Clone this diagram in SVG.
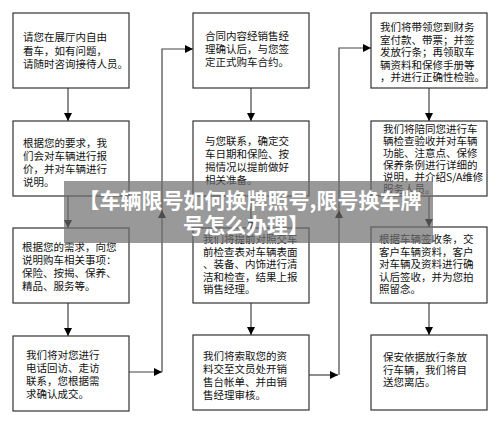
<svg xmlns="http://www.w3.org/2000/svg" width="500" height="425" viewBox="0 0 500 425">
<style>
.box{fill:#fff;stroke:#333;stroke-width:1.2}
.t{font-family:"Noto Sans CJK SC","Noto Sans CJK JP",sans-serif;font-size:10.5px;fill:#111}
.c{fill:none;stroke:#444;stroke-width:1.2}
.ban{font-family:"Noto Sans CJK SC","Noto Sans CJK JP",sans-serif;font-size:21px;font-weight:bold;fill:#fff;text-anchor:middle}
</style>
<defs>
<marker id="ah" viewBox="0 0 10 10" refX="10" refY="5" markerWidth="8" markerHeight="8" markerUnits="userSpaceOnUse" orient="auto">
<path d="M0,0 L10,5 L0,10 z" fill="#000"/>
</marker>
</defs>
<rect width="500" height="425" fill="#fff"/>
<g id="connectors">
<path class="c" d="M68,88 V121" marker-end="url(#ah)"/>
<path class="c" d="M68,196 V228" marker-end="url(#ah)"/>
<path class="c" d="M68,303 V336" marker-end="url(#ah)"/>
<path class="c" d="M129,372 H162" marker-end="url(#ah)"/>
<path class="c" d="M162,372 V210" marker-end="url(#ah)"/>
<path class="c" d="M162,210 V49 H193" marker-end="url(#ah)"/>
<path class="c" d="M251,88 V121" marker-end="url(#ah)"/>
<path class="c" d="M251,196 V228" marker-end="url(#ah)"/>
<path class="c" d="M251,303 V335" marker-end="url(#ah)"/>
<path class="c" d="M309,375 H338" marker-end="url(#ah)"/>
<path class="c" d="M339,375 V210" marker-end="url(#ah)"/>
<path class="c" d="M339,210 V48 H371" marker-end="url(#ah)"/>
<path class="c" d="M429,88 V121" marker-end="url(#ah)"/>
<path class="c" d="M429,196 V227" marker-end="url(#ah)"/>
<path class="c" d="M429,303 V335" marker-end="url(#ah)"/>
</g>
<g id="n1"><rect class="box" x="13" y="13" width="116" height="75"/>
<text class="t"><tspan x="23" y="41">请您在展厅内自由</tspan><tspan x="23" y="54.5">看车，如有问题，</tspan><tspan x="23" y="68">请随时咨询接待人员。</tspan></text></g>
<g id="n2"><rect class="box" x="13" y="121" width="116" height="75"/>
<text class="t"><tspan x="23" y="147">根据您的要求，我</tspan><tspan x="23" y="160">们会对车辆进行报</tspan><tspan x="23" y="173">价，并对车辆进行</tspan><tspan x="23" y="186">说明。</tspan></text></g>
<g id="n3"><rect class="box" x="13" y="228" width="116" height="75"/>
<text class="t"><tspan x="22" y="251">根据您的需求，向您</tspan><tspan x="22" y="264">说明购车相关事项：</tspan><tspan x="22" y="277">保险、按揭、保养、</tspan><tspan x="22" y="290">精品、服务等。</tspan></text></g>
<g id="n4"><rect class="box" x="13" y="336" width="116" height="75"/>
<text class="t"><tspan x="26" y="359">我们将对您进行</tspan><tspan x="26" y="372">电话回访、走访</tspan><tspan x="26" y="385">联系，您根据需</tspan><tspan x="26" y="398">求确认成交。</tspan></text></g>
<g id="n5"><rect class="box" x="193" y="13" width="116" height="75"/>
<text class="t"><tspan x="205" y="40">合同内容经销售经</tspan><tspan x="205" y="53">理确认后，与您签</tspan><tspan x="205" y="66">定正式购车合约。</tspan></text></g>
<g id="n6"><rect class="box" x="193" y="121" width="116" height="75"/>
<text class="t"><tspan x="205" y="145">与您联系，确定交</tspan><tspan x="205" y="158">车日期和保险、按</tspan><tspan x="205" y="171">揭情况以提前做好</tspan><tspan x="205" y="184">相关准备。</tspan></text></g>
<g id="n7"><rect class="box" x="193" y="228" width="116" height="75"/>
<text class="t"><tspan x="203" y="243">我们将提前对照交车</tspan><tspan x="203" y="255.5">前检查表对车辆表面</tspan><tspan x="203" y="268">、装备、内饰进行清</tspan><tspan x="203" y="280.5">洁和检查，结果上报</tspan><tspan x="203" y="293">销售经理。</tspan></text></g>
<g id="n8"><rect class="box" x="193" y="335" width="116" height="75"/>
<text class="t"><tspan x="203" y="360">我们将索取您的资</tspan><tspan x="203" y="373">料交至文员处开销</tspan><tspan x="203" y="386">售台帐单、并由销</tspan><tspan x="203" y="399">售经理审核。</tspan></text></g>
<g id="n9"><rect class="box" x="371" y="13" width="116" height="75"/>
<text class="t"><tspan x="380" y="31">我们将带领您到财务</tspan><tspan x="380" y="43.5">室付款、带票；并签</tspan><tspan x="380" y="56">发放行条；再领取车</tspan><tspan x="380" y="68.5">辆资料和保修手册等</tspan><tspan x="380" y="81">，并进行正确性检验。</tspan></text></g>
<g id="n10"><rect class="box" x="371" y="121" width="116" height="75"/>
<text class="t"><tspan x="383" y="133">我们将陪同您进行车</tspan><tspan x="383" y="145">辆检查验收并对车辆</tspan><tspan x="383" y="157">功能、注意点、保修</tspan><tspan x="383" y="169">保养条例进行详细的</tspan><tspan x="383" y="181">说明，并介绍S/A维修</tspan><tspan x="383" y="193">服务人员。</tspan></text></g>
<g id="n11"><rect class="box" x="371" y="227" width="116" height="76"/>
<text class="t"><tspan x="379" y="243">根据车辆签收条，交</tspan><tspan x="379" y="255.5">客户车辆资料，客户</tspan><tspan x="379" y="268">对车辆及资料进行确</tspan><tspan x="379" y="280.5">认后签收，并为您拍</tspan><tspan x="379" y="293">照留念。</tspan></text></g>
<g id="n12"><rect class="box" x="371" y="335" width="116" height="75"/>
<text class="t"><tspan x="383" y="361">保安依据放行条放</tspan><tspan x="383" y="373.5">行车辆，我们将目</tspan><tspan x="383" y="386">送您离店。</tspan></text></g>
<g id="banner">
<rect x="64" y="181" width="369" height="62" fill="#6e6e6e" fill-opacity="0.7"/>
<text class="ban"><tspan x="250" y="208">【车辆限号如何换牌照号,限号换车牌</tspan><tspan x="246" y="233">号怎么办理】</tspan></text>
</g>
</svg>
